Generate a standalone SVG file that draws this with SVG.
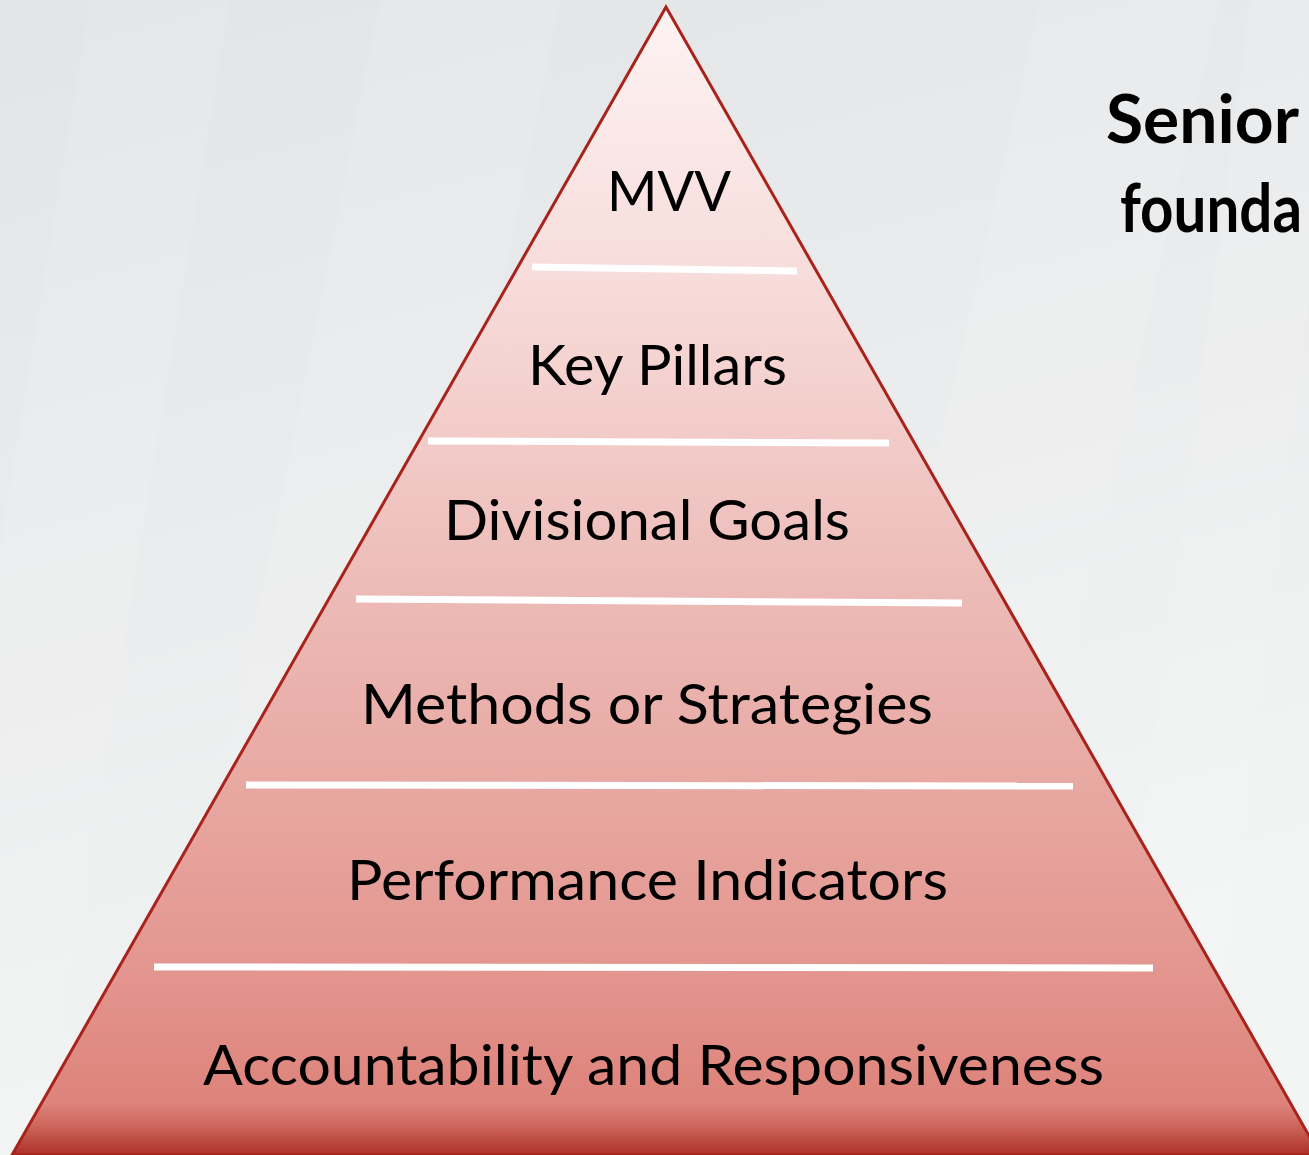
<svg xmlns="http://www.w3.org/2000/svg" width="1309" height="1155" viewBox="0 0 1309 1155">
  <defs>
    <linearGradient id="bg" x1="0" y1="0" x2="0.3" y2="1">
      <stop offset="0" stop-color="#e3e4e5"/>
      <stop offset="0.5" stop-color="#ebeced"/>
      <stop offset="1" stop-color="#f3f4f4"/>
    </linearGradient>
    <linearGradient id="pyramidFill" gradientUnits="userSpaceOnUse" x1="0" y1="7" x2="0" y2="1155">
      <stop offset="0" stop-color="#fdf3f3"/>
      <stop offset="0.229" stop-color="#f7dddb"/>
      <stop offset="0.377" stop-color="#f2cbc8"/>
      <stop offset="0.517" stop-color="#ecbab6"/>
      <stop offset="0.678" stop-color="#e8a8a2"/>
      <stop offset="0.837" stop-color="#e3968f"/>
      <stop offset="0.955" stop-color="#dd837b"/>
      <stop offset="0.975" stop-color="#cd655c"/>
      <stop offset="1" stop-color="#ad3027"/>
    </linearGradient>
    <style>
      .tier { font-family: Lato, "Liberation Sans", sans-serif; font-size: 57px; fill: #000; }
      .heading { font-family: Lato, "Liberation Sans", sans-serif; font-size: 66px; font-weight: 700; fill: #000; }
      .divider { stroke: #ffffff; stroke-width: 7; stroke-linecap: butt; }
      .band { fill: #ffffff; opacity: 0.1; }
    </style>
  </defs>

  <!-- background with faint diagonal bands -->
  <rect x="0" y="0" width="1309" height="1155" fill="url(#bg)"/>
  <polygon class="band" points="90,0 230,0 40,1155 -100,1155"/>
  <polygon class="band" points="380,0 560,0 330,1155 150,1155"/>
  <polygon class="band" points="1040,0 1220,0 960,1155 780,1155"/>
  <polygon class="band" points="1250,0 1309,0 1309,300 1200,1155 1100,1155"/>

  <!-- pyramid body -->
  <g id="pyramid">
    <polygon points="666,7 12,1155 1320,1155" fill="url(#pyramidFill)" stroke="#a8231b" stroke-width="3" stroke-linejoin="miter"/>
  </g>

  <!-- white dividers between tiers -->
  <g id="dividers">
    <line class="divider" x1="532" y1="267" x2="797" y2="271"/>
    <line class="divider" x1="428" y1="441" x2="889" y2="443"/>
    <line class="divider" x1="356" y1="599" x2="962" y2="603"/>
    <line class="divider" x1="246" y1="785" x2="1073" y2="786"/>
    <line class="divider" x1="154" y1="967" x2="1153" y2="968"/>
  </g>

  <!-- tiers, top to bottom -->
  <g id="tier-mvv">
    <text class="tier" x="669" y="211" text-anchor="middle" textLength="124" lengthAdjust="spacingAndGlyphs">MVV</text>
  </g>
  <g id="tier-key-pillars">
    <text class="tier" x="657.5" y="385" text-anchor="middle" textLength="259" lengthAdjust="spacingAndGlyphs">Key Pillars</text>
  </g>
  <g id="tier-divisional-goals">
    <text class="tier" x="647" y="540" text-anchor="middle" textLength="406" lengthAdjust="spacingAndGlyphs">Divisional Goals</text>
  </g>
  <g id="tier-methods">
    <text class="tier" x="647" y="724" text-anchor="middle" textLength="572" lengthAdjust="spacingAndGlyphs">Methods or Strategies</text>
  </g>
  <g id="tier-indicators">
    <text class="tier" x="647.5" y="900" text-anchor="middle" textLength="601" lengthAdjust="spacingAndGlyphs">Performance Indicators</text>
  </g>
  <g id="tier-accountability">
    <text class="tier" x="653.5" y="1085" text-anchor="middle" textLength="901" lengthAdjust="spacingAndGlyphs">Accountability and Responsiveness</text>
  </g>

  <!-- side heading -->
  <g id="heading">
    <text class="heading" x="1106" y="143" textLength="193" lengthAdjust="spacingAndGlyphs">Senior</text>
    <text class="heading" x="1120" y="232" font-size="61" textLength="182" lengthAdjust="spacingAndGlyphs">founda</text>
  </g>
</svg>
